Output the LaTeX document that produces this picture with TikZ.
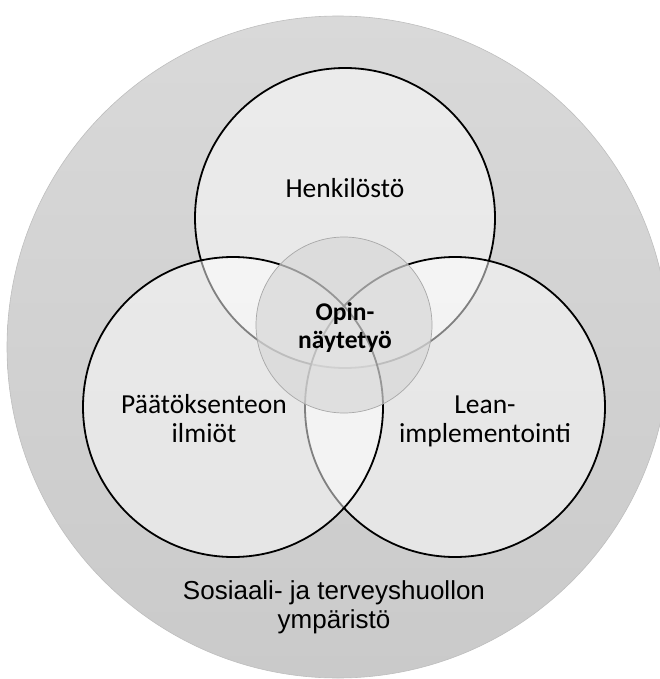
\documentclass[tikz,border=0pt]{standalone}
\usepackage{fontspec}
\setmainfont{Carlito}
\newfontfamily\envfont{Liberation Sans}
\definecolor{ringtop}{HTML}{D9D9D9}
\definecolor{ringbot}{HTML}{CACACA}
\definecolor{ringedge}{HTML}{BEBEBE}
\definecolor{corefill}{HTML}{D7D7D7}
\definecolor{coreedge}{HTML}{A8A8A8}
\begin{document}
\begin{tikzpicture}[x=1pt,y=-1pt,
  area/.style={fill=white, fill opacity=0.5, draw=black, line width=1.8pt},
  core/.style={fill=corefill, fill opacity=0.7, draw=coreedge, line width=0.7pt},
  lbl/.style={font=\fontsize{27.5}{29}\selectfont, align=center, text=black, inner sep=0pt},
  corelbl/.style={font=\fontsize{25.5}{28}\selectfont\bfseries, align=center, text=black, inner sep=0pt},
  envlbl/.style={font=\envfont\fontsize{26}{29}\selectfont, align=center, text=black, inner sep=0pt}]
\useasboundingbox (0,0) rectangle (660,679);

% surrounding environment
\shade[top color=ringtop, bottom color=ringbot] (338,347) circle[radius=331pt];
\draw[ringedge, line width=0.6pt] (338,347) circle[radius=331pt];

% the three themes, drawn top, right, left
\draw[area] (345,218) circle[radius=150pt];
\draw[area] (455,407) circle[radius=150pt];
\draw[area] (233,407) circle[radius=150pt];

% the thesis at the centre
\draw[core] (344,325) circle[radius=88pt];

% labels
\node[lbl] (staff) at (345,188.5) {Henkilöstö};
\node[lbl] (decision) at (204,419) {Päätöksenteon\\ilmiöt};
\node[lbl] (lean) at (485,421) {Lean-\\implementointi};
\node[corelbl] (thesis) at (345,328) {Opin-\\näytetyö};
\node[envlbl] (env) at (334,607) {Sosiaali- ja terveyshuollon\\ympäristö};
\end{tikzpicture}
\end{document}
